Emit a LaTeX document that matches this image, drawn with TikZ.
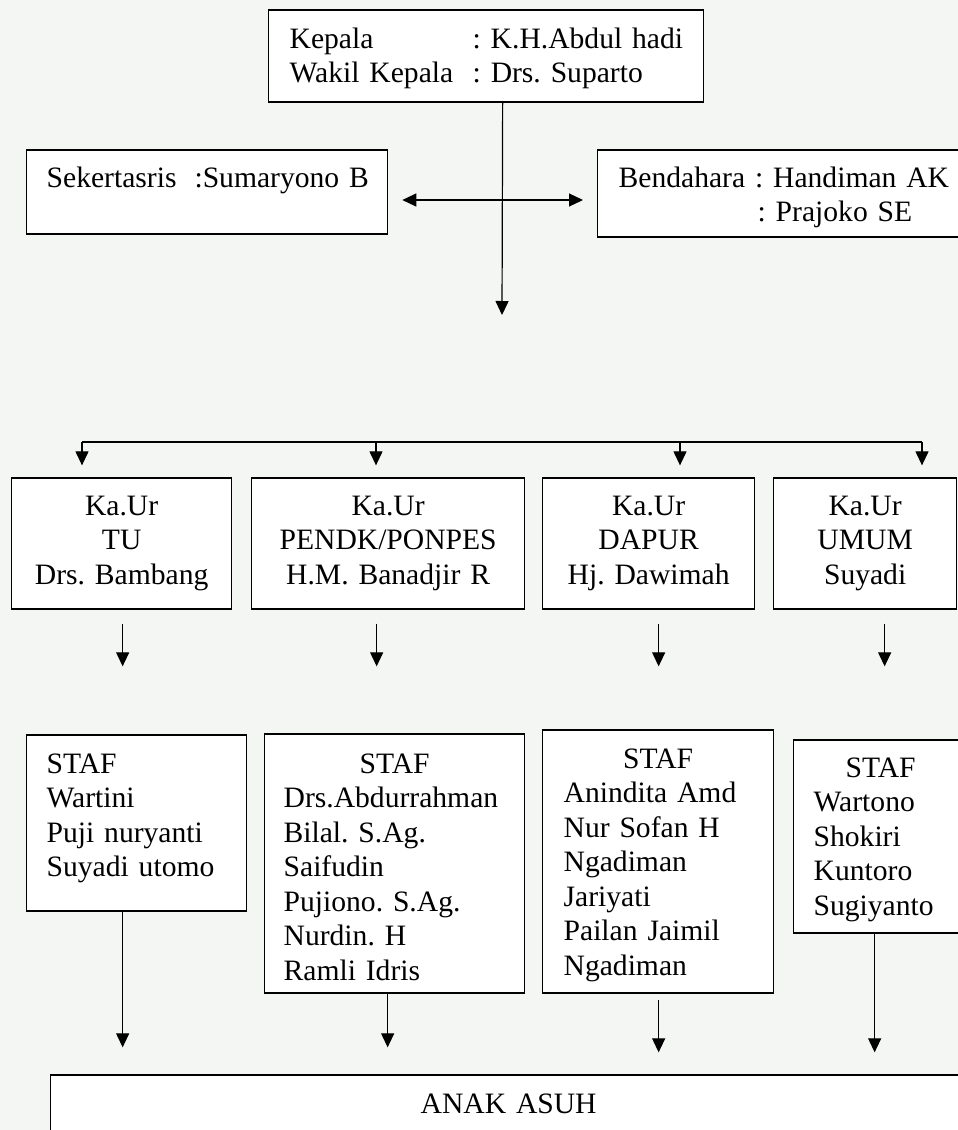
\documentclass[tikz,border=0pt]{standalone}
\usepackage{fontspec}
\setmainfont{Liberation Serif}
\usetikzlibrary{arrows.meta}
\definecolor{paper}{RGB}{244,246,243}
\frenchspacing

\begin{document}
\begin{tikzpicture}[x=1pt,y=-1pt,>={Triangle[length=14pt,width=13pt]}]

	\tikzstyle{rect}=[
		rectangle,
		draw=black,
		line width=1.3pt,
		fill=white,
		inner ysep=0pt,
		anchor=base west,
		font=\fontsize{29.6}{34.5}\selectfont
	]
	\tikzstyle{post}=[->,line width=1.2pt]

	\path[use as bounding box, clip] (0,0) rectangle (958,1130);
	\fill[paper] (0,0) rectangle (958,1130);

	% pimpinan
	\node [rect, text width=393pt, inner xsep=21pt, text height=38pt, text depth=54pt, align=left] (kepala) at (268,48) {\mbox{\makebox[183pt][l]{Kepala}: K.H.Abdul hadi}\\\mbox{\makebox[183pt][l]{Wakil Kepala}: Drs. Suparto}};

	\node [rect, text width=321pt, inner xsep=20pt, text height=37pt, text depth=47pt, align=left] (sek) at (26,187) {\mbox{Sekertasris\hspace{18pt}:Sumaryono B}};
	\node [rect, text width=338pt, inner xsep=21pt, text height=37pt, text depth=50pt, align=left] (bend) at (597,187) {Bendahara : Handiman AK\\\hspace*{139pt}: Prajoko SE};

	% kepala urusan
	\node [rect, text width=200pt, inner xsep=10pt, text height=37pt, text depth=94pt, align=center] (kaur1) at (11,515) {Ka.Ur\\TU\\Drs. Bambang};
	\node [rect, text width=253pt, inner xsep=10pt, text height=37pt, text depth=94pt, align=center] (kaur2) at (251,515) {Ka.Ur\\PENDK/PONPES\\H.M. Banadjir R};
	\node [rect, text width=192pt, inner xsep=10pt, text height=37pt, text depth=94pt, align=center] (kaur3) at (542,515) {Ka.Ur\\DAPUR\\Hj. Dawimah};
	\node [rect, text width=163pt, inner xsep=10pt, text height=37pt, text depth=94pt, align=center] (kaur4) at (773,515) {Ka.Ur\\UMUM\\Suyadi};

	% staf
	\node [rect, text width=180pt, inner xsep=20pt, text height=38pt, text depth=138pt, align=left] (staf1) at (26,773) {STAF\\Wartini\\Puji nuryanti\\Suyadi utomo};
	\node [rect, text width=222pt, inner xsep=19pt, text height=39pt, text depth=220pt, align=left] (staf2) at (264,773) {\makebox[\linewidth]{STAF}\\\mbox{Drs.Abdurrahman}\\Bilal. S.Ag.\\Saifudin\\Pujiono. S.Ag.\\Nurdin. H\\Ramli Idris};
	\node [rect, text width=189pt, inner xsep=21pt, text height=38pt, text depth=225pt, align=left] (staf3) at (542,768) {\makebox[\linewidth]{STAF}\\Anindita Amd\\Nur Sofan H\\Ngadiman\\Jariyati\\Pailan Jaimil\\Ngadiman};
	\node [rect, text width=134pt, inner xsep=20pt, text height=37pt, text depth=156pt, align=left] (staf4) at (793,777) {\makebox[\linewidth]{STAF}\\Wartono\\Shokiri\\Kuntoro\\Sugiyanto};

	\node [rect, text width=896pt, inner xsep=10pt, text height=38pt, text depth=37pt, align=center] (anak) at (50,1113) {ANAK ASUH};

	\coordinate (split) at (502,315);
	\coordinate (bar1) at (82,442);
	\coordinate (bar2) at (376,442);
	\coordinate (bar3) at (680,442);
	\coordinate (bar4) at (922,442);

	\draw[post] ([xshift=16.5pt]kepala.south) -- (split);
	\draw[post, <->, shorten <=14pt, shorten >=14pt] ([yshift=-8pt]sek.east) -- ([yshift=-8pt]sek.east -| bend.west);

	\draw[line width=1.2pt] (bar1) -- (bar4);
	\draw[post, shorten >=12pt] (bar1) -- (bar1 |- kaur1.north);
	\draw[post, shorten >=12pt] (bar2) -- (bar2 |- kaur2.north);
	\draw[post, shorten >=12pt] (bar3) -- (bar3 |- kaur3.north);
	\draw[post, shorten >=12pt] (bar4) -- (bar4 |- kaur4.north);

	\draw[post, shorten <=14pt, shorten >=68pt] ([xshift=1pt]kaur1.south) -- ([xshift=1pt]kaur1.south |- staf1.north);
	\draw[post, shorten <=14pt, shorten >=67pt] ([xshift=-11.5pt]kaur2.south) -- ([xshift=-11.5pt]kaur2.south |- staf2.north);
	\draw[post, shorten <=14pt, shorten >=63pt] ([xshift=10pt]kaur3.south) -- ([xshift=10pt]kaur3.south |- staf3.north);
	\draw[post, shorten <=14pt, shorten >=73pt] ([xshift=19.5pt]kaur4.south) -- ([xshift=19.5pt]kaur4.south |- staf4.north);

	\draw[post, shorten >=27pt] ([xshift=-14pt]staf1.south) -- ([xshift=-14pt]staf1.south |- anak.north);
	\draw[post, shorten >=27pt] ([xshift=-7pt]staf2.south) -- ([xshift=-7pt]staf2.south |- anak.north);
	\draw[post, shorten <=6pt, shorten >=22pt] ([xshift=0.5pt]staf3.south) -- ([xshift=0.5pt]staf3.south |- anak.north);
	\draw[post, shorten >=22pt] ([xshift=-6pt]staf4.south) -- ([xshift=-6pt]staf4.south |- anak.north);

\end{tikzpicture}
\end{document}
